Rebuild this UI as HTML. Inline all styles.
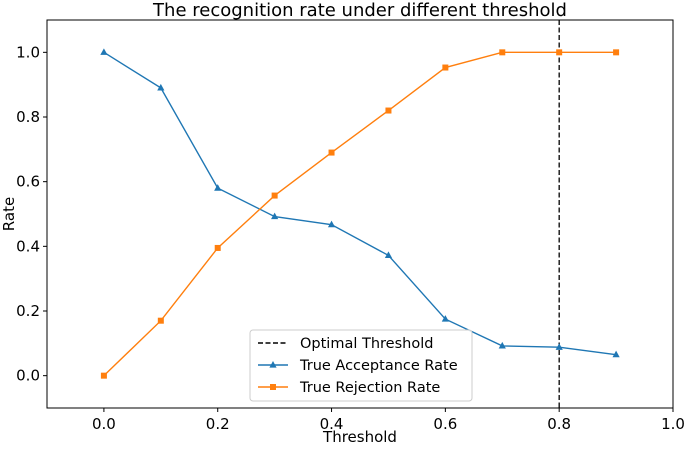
<!DOCTYPE html>
<html><head><meta charset="utf-8"><style>
body{margin:0;background:#fff;}
svg text{font-family:"DejaVu Sans","Liberation Sans",sans-serif;fill:#000;}
</style></head><body>
<svg width="685" height="445">
<g id="axes"></g>
</svg>
<script>
const thresholds=[0,0.1,0.2,0.3,0.4,0.5,0.6,0.7,0.8,0.9];
const tar=[1.0,0.89,0.58,0.492,0.467,0.372,0.175,0.092,0.088,0.065];
const trr=[0.0,0.17,0.395,0.557,0.69,0.82,0.953,1.0,1.0,1.0];
const xTicks=[0.0,0.2,0.4,0.6,0.8,1.0];
const yTicks=[0.0,0.2,0.4,0.6,0.8,1.0];
const optimal=0.8;
const L=47,R=673,T=20,B=408;
const X=v=>L+(v+0.1)/1.1*(R-L);
const Y=v=>B-(v+0.1)/1.2*(B-T);
const NS='http://www.w3.org/2000/svg';
const g=document.getElementById('axes');
function mk(tag,a,p){const e=document.createElementNS(NS,tag);for(const k in a)e.setAttribute(k,a[k]);(p||g).appendChild(e);return e;}
const frame=mk('rect',{x:L,y:T,width:R-L,height:B-T,fill:'none',stroke:'#000','stroke-width':1});


xTicks.forEach(v=>{const x=X(v);
 const t=mk('line',{x1:x,x2:x,y1:B,y2:B+4,stroke:'#000'});
 
 
 const l=mk('text',{x:x,y:B+21,'font-size':15,'text-anchor':'middle'});l.textContent=v.toFixed(1);
 
 });
yTicks.forEach(v=>{const y=Y(v);
 const t=mk('line',{x1:L-4,x2:L,y1:y,y2:y,stroke:'#000'});
 
 
 const l=mk('text',{x:L-7,y:y+5,'font-size':15,'text-anchor':'end'});l.textContent=v.toFixed(1);
 
 });
const tt=mk('text',{x:(L+R)/2,y:16,'font-size':18,'text-anchor':'middle'});tt.textContent='The recognition rate under different threshold';


const xl=mk('text',{x:(L+R)/2,y:442,'font-size':15,'text-anchor':'middle'});xl.textContent='Threshold';


const yl=mk('text',{x:0,y:0,'font-size':15,'text-anchor':'middle',transform:`translate(14,${(T+B)/2}) rotate(-90)`});yl.textContent='Rate';


const ol=mk('line',{x1:X(optimal),x2:X(optimal),y1:T,y2:B,stroke:'#000','stroke-dasharray':'5,2.5','stroke-width':1.3});


function series(vals,color,marker,name){
 const p=mk('polyline',{points:thresholds.map((t,i)=>X(t)+','+Y(vals[i])).join(' '),fill:'none',stroke:color,'stroke-width':1.4});
 
 
 thresholds.forEach((t,i)=>{const x=X(t),y=Y(vals[i]);let m;
  if(marker==='tri')m=mk('polygon',{points:`${x},${y-4} ${x-3.6},${y+2.6} ${x+3.6},${y+2.6}`,fill:color});
  else m=mk('rect',{x:x-3,y:y-3,width:6,height:6,fill:color});
  
  });
}
series(tar,'#1f77b4','tri','true-acceptance-rate');
series(trr,'#ff7f0e','sq','true-rejection-rate');
const lg=mk('g',{});


mk('rect',{x:250,y:330,width:222,height:71,rx:3,fill:'#fff','fill-opacity':0.8,stroke:'#ccc'},lg);
const ents=[['Optimal Threshold','#000',null],['True Acceptance Rate','#1f77b4','tri'],['True Rejection Rate','#ff7f0e','sq']];
ents.forEach((e,i)=>{const y=343+i*22;
 const ge=mk('g',{},lg);
 
 
 mk('line',{x1:258,x2:288,y1:y,y2:y,stroke:e[1],'stroke-width':1.4,'stroke-dasharray':e[2]?'':'5,2.5'},ge);
 if(e[2]==='tri')mk('polygon',{points:`273,${y-4} 269.4,${y+2.6} 276.6,${y+2.6}`,fill:e[1]},ge);
 if(e[2]==='sq')mk('rect',{x:270,y:y-3,width:6,height:6,fill:e[1]},ge);
 const t=mk('text',{x:300,y:y+5,'font-size':14.5},ge);t.textContent=e[0];});
</script>
</body></html>
